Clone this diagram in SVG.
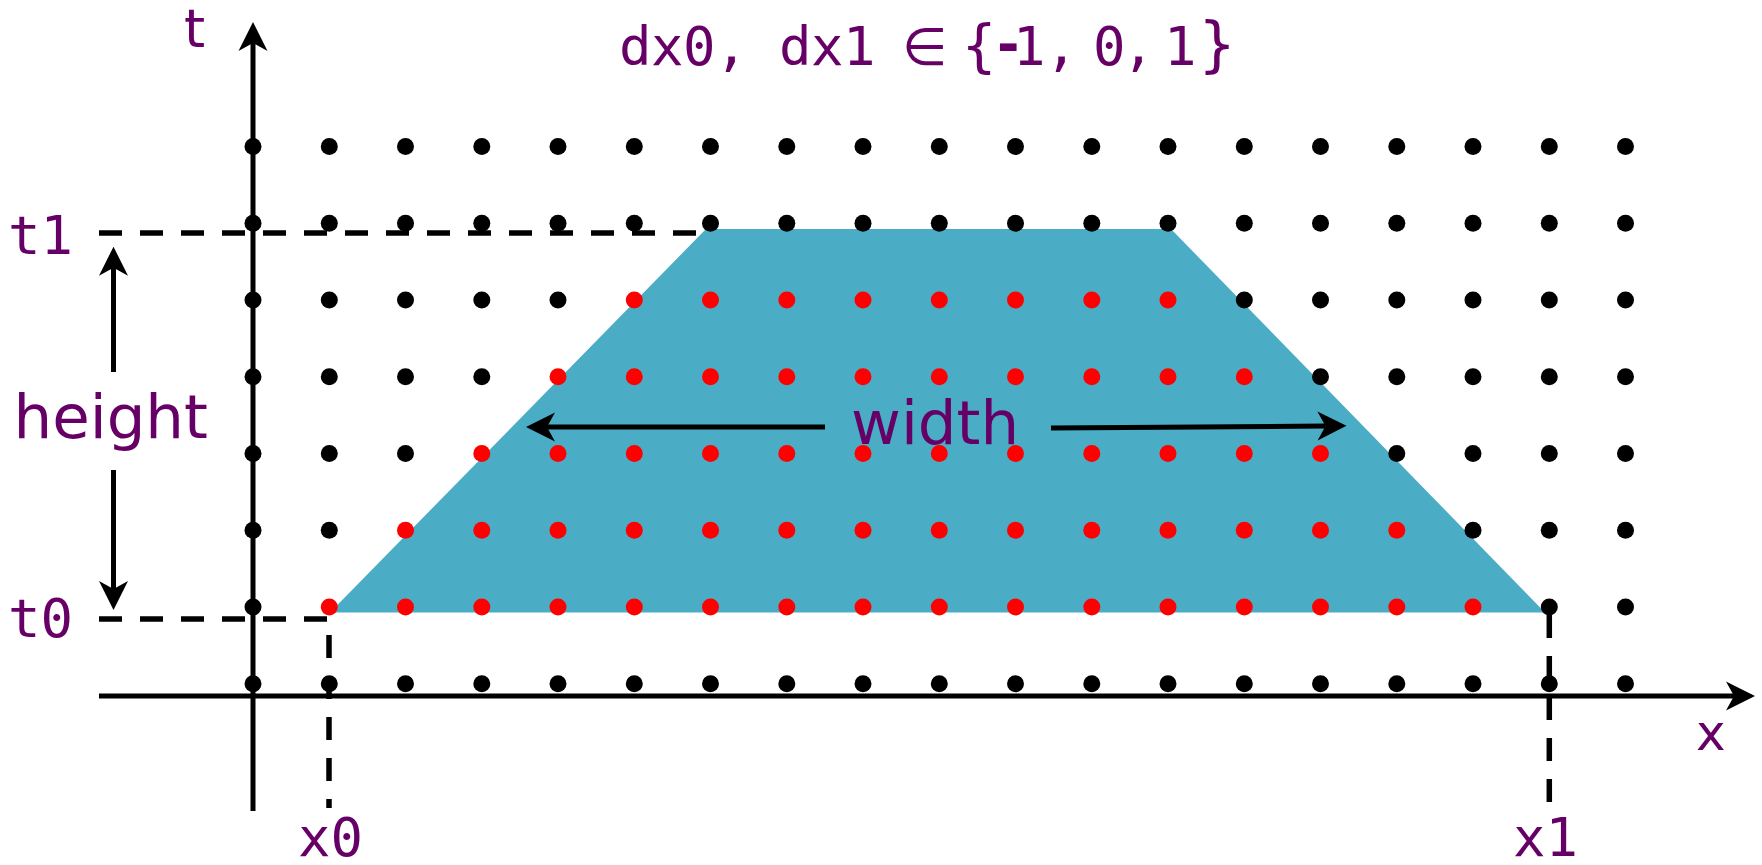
<svg xmlns="http://www.w3.org/2000/svg" width="1762" height="865" viewBox="0 0 1762 865">
<style>
.k{fill:#000}
.r{fill:#ff0000}
.ar{stroke:#000;stroke-width:5;fill:none;marker-end:url(#ah)}
.ds{stroke:#000;stroke-width:5.5;fill:none;stroke-dasharray:23 18}
.lbl{fill:#660066;font-family:"DejaVu Sans Mono","Liberation Mono",monospace;font-size:54px}
.sans{fill:#660066;font-family:"DejaVu Sans","Liberation Sans",sans-serif}
</style>
<defs>
<marker id="ah" markerUnits="userSpaceOnUse" markerWidth="30" markerHeight="30" viewBox="0 -15 30 30" refX="8" refY="0" orient="auto" overflow="visible">
<path d="M0,-14.5 L29,0 L0,14.5 L8,0 Z" fill="#000"/>
</marker>
</defs>
<rect width="1762" height="865" fill="#fff"/>
<g id="region">
<polygon points="330,612.5 706,229 1171,229 1545,612.5" fill="#4BACC6"/>
</g>
<g id="guides">
<path class="ds" d="M99,233 H709"/>
<path class="ds" d="M99,619 H329 V808"/>
<path class="ds" d="M1549.3,615 V808"/>
</g>
<g id="axes">
<path class="ar" d="M253,811 V43"/>
<path class="ar" d="M99,696 H1734"/>
</g>
<g id="dots">
<g class="k">
<circle cx="253" cy="146.5" r="8.5"/><circle cx="329.3" cy="146.5" r="8.5"/><circle cx="405.5" cy="146.5" r="8.5"/><circle cx="481.8" cy="146.5" r="8.5"/><circle cx="558" cy="146.5" r="8.5"/><circle cx="634.3" cy="146.5" r="8.5"/><circle cx="710.5" cy="146.5" r="8.5"/><circle cx="786.8" cy="146.5" r="8.5"/><circle cx="863" cy="146.5" r="8.5"/><circle cx="939.3" cy="146.5" r="8.5"/><circle cx="1015.5" cy="146.5" r="8.5"/><circle cx="1091.8" cy="146.5" r="8.5"/><circle cx="1168" cy="146.5" r="8.5"/><circle cx="1244.3" cy="146.5" r="8.5"/><circle cx="1320.5" cy="146.5" r="8.5"/><circle cx="1396.8" cy="146.5" r="8.5"/><circle cx="1473" cy="146.5" r="8.5"/><circle cx="1549.3" cy="146.5" r="8.5"/><circle cx="1625.5" cy="146.5" r="8.5"/>
<circle cx="253" cy="223.3" r="8.5"/><circle cx="329.3" cy="223.3" r="8.5"/><circle cx="405.5" cy="223.3" r="8.5"/><circle cx="481.8" cy="223.3" r="8.5"/><circle cx="558" cy="223.3" r="8.5"/><circle cx="634.3" cy="223.3" r="8.5"/><circle cx="710.5" cy="223.3" r="8.5"/><circle cx="786.8" cy="223.3" r="8.5"/><circle cx="863" cy="223.3" r="8.5"/><circle cx="939.3" cy="223.3" r="8.5"/><circle cx="1015.5" cy="223.3" r="8.5"/><circle cx="1091.8" cy="223.3" r="8.5"/><circle cx="1168" cy="223.3" r="8.5"/><circle cx="1244.3" cy="223.3" r="8.5"/><circle cx="1320.5" cy="223.3" r="8.5"/><circle cx="1396.8" cy="223.3" r="8.5"/><circle cx="1473" cy="223.3" r="8.5"/><circle cx="1549.3" cy="223.3" r="8.5"/><circle cx="1625.5" cy="223.3" r="8.5"/>
<circle cx="253" cy="300" r="8.5"/><circle cx="329.3" cy="300" r="8.5"/><circle cx="405.5" cy="300" r="8.5"/><circle cx="481.8" cy="300" r="8.5"/><circle cx="558" cy="300" r="8.5"/><circle cx="1244.3" cy="300" r="8.5"/><circle cx="1320.5" cy="300" r="8.5"/><circle cx="1396.8" cy="300" r="8.5"/><circle cx="1473" cy="300" r="8.5"/><circle cx="1549.3" cy="300" r="8.5"/><circle cx="1625.5" cy="300" r="8.5"/>
<circle cx="253" cy="376.8" r="8.5"/><circle cx="329.3" cy="376.8" r="8.5"/><circle cx="405.5" cy="376.8" r="8.5"/><circle cx="481.8" cy="376.8" r="8.5"/><circle cx="1320.5" cy="376.8" r="8.5"/><circle cx="1396.8" cy="376.8" r="8.5"/><circle cx="1473" cy="376.8" r="8.5"/><circle cx="1549.3" cy="376.8" r="8.5"/><circle cx="1625.5" cy="376.8" r="8.5"/>
<circle cx="253" cy="453.5" r="8.5"/><circle cx="329.3" cy="453.5" r="8.5"/><circle cx="405.5" cy="453.5" r="8.5"/><circle cx="1396.8" cy="453.5" r="8.5"/><circle cx="1473" cy="453.5" r="8.5"/><circle cx="1549.3" cy="453.5" r="8.5"/><circle cx="1625.5" cy="453.5" r="8.5"/>
<circle cx="253" cy="530.3" r="8.5"/><circle cx="329.3" cy="530.3" r="8.5"/><circle cx="1473" cy="530.3" r="8.5"/><circle cx="1549.3" cy="530.3" r="8.5"/><circle cx="1625.5" cy="530.3" r="8.5"/>
<circle cx="253" cy="607" r="8.5"/><circle cx="1549.3" cy="607" r="8.5"/><circle cx="1625.5" cy="607" r="8.5"/>
<circle cx="253" cy="683.8" r="8.5"/><circle cx="329.3" cy="683.8" r="8.5"/><circle cx="405.5" cy="683.8" r="8.5"/><circle cx="481.8" cy="683.8" r="8.5"/><circle cx="558" cy="683.8" r="8.5"/><circle cx="634.3" cy="683.8" r="8.5"/><circle cx="710.5" cy="683.8" r="8.5"/><circle cx="786.8" cy="683.8" r="8.5"/><circle cx="863" cy="683.8" r="8.5"/><circle cx="939.3" cy="683.8" r="8.5"/><circle cx="1015.5" cy="683.8" r="8.5"/><circle cx="1091.8" cy="683.8" r="8.5"/><circle cx="1168" cy="683.8" r="8.5"/><circle cx="1244.3" cy="683.8" r="8.5"/><circle cx="1320.5" cy="683.8" r="8.5"/><circle cx="1396.8" cy="683.8" r="8.5"/><circle cx="1473" cy="683.8" r="8.5"/><circle cx="1549.3" cy="683.8" r="8.5"/><circle cx="1625.5" cy="683.8" r="8.5"/>
</g>
<g class="r">
<circle cx="634.3" cy="300" r="8.5"/><circle cx="710.5" cy="300" r="8.5"/><circle cx="786.8" cy="300" r="8.5"/><circle cx="863" cy="300" r="8.5"/><circle cx="939.3" cy="300" r="8.5"/><circle cx="1015.5" cy="300" r="8.5"/><circle cx="1091.8" cy="300" r="8.5"/><circle cx="1168" cy="300" r="8.5"/>
<circle cx="558" cy="376.8" r="8.5"/><circle cx="634.3" cy="376.8" r="8.5"/><circle cx="710.5" cy="376.8" r="8.5"/><circle cx="786.8" cy="376.8" r="8.5"/><circle cx="863" cy="376.8" r="8.5"/><circle cx="939.3" cy="376.8" r="8.5"/><circle cx="1015.5" cy="376.8" r="8.5"/><circle cx="1091.8" cy="376.8" r="8.5"/><circle cx="1168" cy="376.8" r="8.5"/><circle cx="1244.3" cy="376.8" r="8.5"/>
<circle cx="481.8" cy="453.5" r="8.5"/><circle cx="558" cy="453.5" r="8.5"/><circle cx="634.3" cy="453.5" r="8.5"/><circle cx="710.5" cy="453.5" r="8.5"/><circle cx="786.8" cy="453.5" r="8.5"/><circle cx="863" cy="453.5" r="8.5"/><circle cx="939.3" cy="453.5" r="8.5"/><circle cx="1015.5" cy="453.5" r="8.5"/><circle cx="1091.8" cy="453.5" r="8.5"/><circle cx="1168" cy="453.5" r="8.5"/><circle cx="1244.3" cy="453.5" r="8.5"/><circle cx="1320.5" cy="453.5" r="8.5"/>
<circle cx="405.5" cy="530.3" r="8.5"/><circle cx="481.8" cy="530.3" r="8.5"/><circle cx="558" cy="530.3" r="8.5"/><circle cx="634.3" cy="530.3" r="8.5"/><circle cx="710.5" cy="530.3" r="8.5"/><circle cx="786.8" cy="530.3" r="8.5"/><circle cx="863" cy="530.3" r="8.5"/><circle cx="939.3" cy="530.3" r="8.5"/><circle cx="1015.5" cy="530.3" r="8.5"/><circle cx="1091.8" cy="530.3" r="8.5"/><circle cx="1168" cy="530.3" r="8.5"/><circle cx="1244.3" cy="530.3" r="8.5"/><circle cx="1320.5" cy="530.3" r="8.5"/><circle cx="1396.8" cy="530.3" r="8.5"/>
<circle cx="329.3" cy="607" r="8.5"/><circle cx="405.5" cy="607" r="8.5"/><circle cx="481.8" cy="607" r="8.5"/><circle cx="558" cy="607" r="8.5"/><circle cx="634.3" cy="607" r="8.5"/><circle cx="710.5" cy="607" r="8.5"/><circle cx="786.8" cy="607" r="8.5"/><circle cx="863" cy="607" r="8.5"/><circle cx="939.3" cy="607" r="8.5"/><circle cx="1015.5" cy="607" r="8.5"/><circle cx="1091.8" cy="607" r="8.5"/><circle cx="1168" cy="607" r="8.5"/><circle cx="1244.3" cy="607" r="8.5"/><circle cx="1320.5" cy="607" r="8.5"/><circle cx="1396.8" cy="607" r="8.5"/><circle cx="1473" cy="607" r="8.5"/>
</g>
</g>
<g id="connectors">
<path class="ar" d="M113.5,372 V267.7"/>
<path class="ar" d="M113.5,470 V589"/>
<path class="ar" d="M825,427 H547"/>
<path class="ar" d="M1051,428 L1325.5,426"/>
</g>
<g id="labels">
<text class="sans" x="184" y="47" font-size="54">t</text>
<text class="lbl" x="8" y="254">t1</text>
<text class="lbl" x="8" y="637">t0</text>
<text class="lbl" x="298" y="856">x0</text>
<text class="lbl" x="1513" y="856">x1</text>
<text class="sans" x="1696" y="750" font-size="50">x</text>
<text class="sans" x="13.5" y="438" font-size="61">height</text>
<text class="sans" x="851" y="444" font-size="61">width</text>
<text class="lbl" y="65" font-size="57"><tspan x="619">d</tspan><tspan x="651">x</tspan><tspan x="683">0</tspan><tspan x="715">,</tspan><tspan x="779">d</tspan><tspan x="811">x</tspan><tspan x="843">1</tspan><tspan x="902" font-family="DejaVu Sans, sans-serif" font-size="52">∈</tspan><tspan x="961" font-family="DejaVu Sans, sans-serif" font-size="57">{</tspan><tspan x="992" y="63" font-weight="bold">-</tspan><tspan x="1013" y="65">1</tspan><tspan x="1045">,</tspan><tspan x="1093">0</tspan><tspan x="1122">,</tspan><tspan x="1164">1</tspan><tspan x="1198" font-family="DejaVu Sans, sans-serif" font-size="60">}</tspan></text>
</g>
</svg>
